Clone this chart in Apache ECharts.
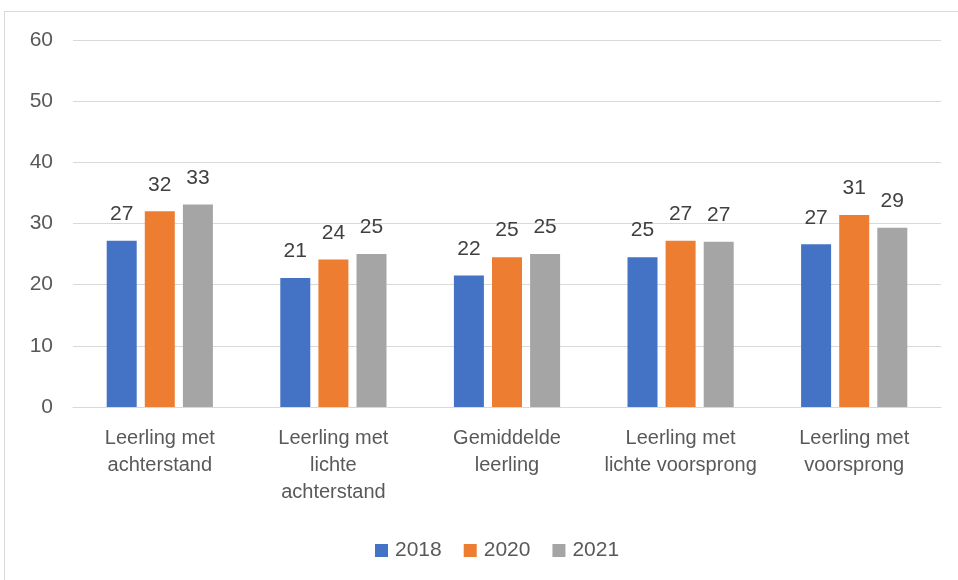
<!DOCTYPE html>
<html>
<head>
<meta charset="utf-8">
<script src="https://cdn.jsdelivr.net/npm/echarts@6/dist/echarts.min.js"></script>
<style>
  html, body { margin: 0; padding: 0; background: #fff; }
  #frame {
    position: absolute; left: 4px; top: 11px; width: 960px; height: 575px;
    border: 1px solid #d9d9d9; box-sizing: border-box;
  }
  #chart { position: absolute; left: 0; top: 0; width: 958px; height: 580px; }
</style>
</head>
<body>
<div id="frame"></div>
<div id="chart"></div>
<script>
const categories = [
    'Leerling met\nachterstand',
    'Leerling met\nlichte\nachterstand',
    'Gemiddelde\nleerling',
    'Leerling met\nlichte voorsprong',
    'Leerling met\nvoorsprong'
];
const years = ['2018', '2020', '2021'];
const values2018 = [27.2, 21.1, 21.5, 24.5, 26.6];
const values2020 = [32.0, 24.1, 24.5, 27.2, 31.4];
const values2021 = [33.1, 25.0, 25.0, 27.0, 29.3];
const yTicks = [0, 10, 20, 30, 40, 50, 60];

const colors = ['#4472C4', '#ED7D31', '#A5A5A5'];
const seriesValues = [values2018, values2020, values2021];

const myChart = echarts.init(document.getElementById('chart'));

const option = {
    animation: false,
    textStyle: { fontFamily: 'Liberation Sans' },
    grid: { left: 73, right: 17, top: 40, bottom: 173 },
    legend: {
        data: years,
        top: 535,
        left: 370,
        itemWidth: 13,
        itemHeight: 13,
        itemGap: 22,
        icon: 'rect',
        textStyle: { fontSize: 21, color: '#595959', padding: [0, 0, 0, 2] }
    },
    xAxis: {
        type: 'category',
        data: categories,
        axisLine: { lineStyle: { color: '#d9d9d9', width: 1 } },
        axisTick: { show: false },
        axisLabel: { fontSize: 20, color: '#595959', lineHeight: 27, margin: 18, interval: 0 }
    },
    yAxis: {
        type: 'value',
        min: yTicks[0],
        max: yTicks[yTicks.length - 1],
        interval: 10,
        axisLine: { show: false },
        axisTick: { show: false },
        splitLine: { lineStyle: { color: '#d9d9d9', width: 1 } },
        axisLabel: { fontSize: 21, color: '#595959', margin: 20 }
    },
    series: years.map((y, i) => ({
        name: y,
        type: 'bar',
        data: seriesValues[i],
        barWidth: 30,
        barGap: '27%',
        itemStyle: { color: colors[i] },
        label: {
            show: true,
            position: 'top',
            distance: 16,
            fontSize: 21,
            color: '#404040',
            formatter: p => Math.round(p.value)
        }
    }))
};

myChart.setOption(option);
</script>
</body>
</html>
